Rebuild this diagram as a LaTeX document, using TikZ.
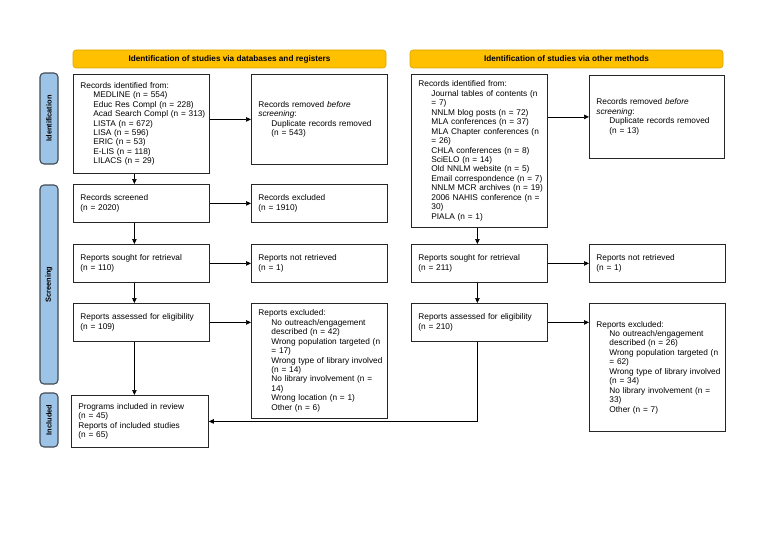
\documentclass[tikz,border=0pt]{standalone}
\usepackage{fontspec}
\setmainfont{Liberation Sans}
\usetikzlibrary{arrows.meta,calc}
\definecolor{hdrcolor}{HTML}{FFC000}
\definecolor{hdrline}{HTML}{D9A400}
\definecolor{sidecolor}{HTML}{9DC3E6}
\definecolor{sideline}{HTML}{3F4A55}
\newcommand\sub[1]{\\\hspace*{13pt}\mbox{#1}}
\tikzset{
  box/.style={draw=black!85, line width=0.8pt, rectangle, anchor=north west,
    minimum width=136pt, minimum height=#1, text width=122pt, inner xsep=7pt,
    inner ysep=1pt, align=left, font=\fontsize{8.3}{9.45}\selectfont},
  hdr/.style={draw=hdrline, line width=0.6pt, fill=hdrcolor, rounded corners=3pt,
    minimum width=313pt, minimum height=18pt, inner sep=0pt,
    font=\bfseries\fontsize{8.2}{9.5}\selectfont},
  side/.style={draw=sideline, line width=1.1pt, fill=sidecolor, rounded corners=4pt,
    minimum height=18pt, inner sep=0pt, rotate=90,
    font=\bfseries\fontsize{7.4}{8}\selectfont},
  arr/.style={-{Triangle[length=5pt,width=4.5pt]}, line width=0.7pt}
}
\begin{document}
\begin{tikzpicture}[x=1pt,y=-1pt]
\useasboundingbox (0,0) rectangle (768,543);
% headers
\node[hdr] (hleft) at (229.5,59) {Identification of studies via databases and registers};
\node[hdr] (hright) at (566.5,59) {Identification of studies via other methods};
% phase labels
\foreach \lab/\y/\len in {Identification/118.5/91, Screening/284.5/199, Included/420/54}
  \node[side, minimum width=\len pt] (side\lab) at (49,\y) {\lab};
% databases and registers
\node[box=99pt] (lid) at (73,74) {Records identified from:\sub{MEDLINE (n = 554)}\sub{Educ Res Compl (n = 228)}\sub{Acad Search Compl (n = 313)}\sub{LISTA (n = 672)}\sub{LISA (n = 596)}\sub{ERIC (n = 53)}\sub{E-LIS (n = 118)}\sub{LILACS (n = 29)}};
\node[box=90pt] (lrem) at (251,74) {Records removed \textit{before}\\\textit{screening}:\sub{Duplicate records removed}\sub{(n = 543)}};
\node[box=38pt] (lscr) at (73,184) {Records screened\\(n = 2020)};
\node[box=38pt] (lexc) at (251,184) {Records excluded\\(n = 1910)};
\node[box=38pt] (lsou) at (73,244) {Reports sought for retrieval\\(n = 110)};
\node[box=38pt] (lnot) at (251,244) {Reports not retrieved\\(n = 1)};
\node[box=38pt] (lass) at (73,303) {Reports assessed for eligibility\\(n = 109)};
\node[box=115pt] (lrep) at (251,303) {Reports excluded:\sub{No outreach/engagement}\sub{described (n = 42)}\sub{Wrong population targeted (n}\sub{= 17)}\sub{Wrong type of library involved}\sub{(n = 14)}\sub{No library involvement (n =}\sub{14)}\sub{Wrong location (n = 1)}\sub{Other (n = 6)}};
\node[box=52pt, minimum width=137pt, text width=123pt] (inc) at (71,395) {Programs included in review\\(n = 45)\\Reports of included studies\\(n = 65)};
% other methods
\node[box=153pt] (rid) at (411,74) {Records identified from:\sub{Journal tables of contents (n}\sub{= 7)}\sub{NNLM blog posts (n = 72)}\sub{MLA conferences (n = 37)}\sub{MLA Chapter conferences (n}\sub{= 26)}\sub{CHLA conferences (n = 8)}\sub{SciELO (n = 14)}\sub{Old NNLM website (n = 5)}\sub{Email correspondence (n = 7)}\sub{NNLM MCR archives (n = 19)}\sub{2006 NAHIS conference (n =}\sub{30)}\sub{PIALA (n = 1)}};
\node[box=83pt, minimum width=135pt, text width=121pt] (rrem) at (589,75) {Records removed \textit{before}\\\textit{screening}:\sub{Duplicate records removed}\sub{(n = 13)}};
\node[box=38pt] (rsou) at (411,244) {Reports sought for retrieval\\(n = 211)};
\node[box=38pt] (rnot) at (589,244) {Reports not retrieved\\(n = 1)};
\node[box=38pt] (rass) at (411,303) {Reports assessed for eligibility\\(n = 210)};
\node[box=128pt] (rrep) at (589,303) {Reports excluded:\sub{No outreach/engagement}\sub{described (n = 26)}\sub{Wrong population targeted (n}\sub{= 62)}\sub{Wrong type of library involved}\sub{(n = 34)}\sub{No library involvement (n =}\sub{33)}\sub{Other (n = 7)}};
% connectors, left
\draw[arr] (lid.east |- lrem.west) -- (lrem.west);
\draw[arr] ([xshift=-7pt]lid.south) -- ([xshift=-7pt]lscr.north);
\draw[arr] (lscr) -- (lexc);
\draw[arr] ([xshift=-7pt]lscr.south) -- ([xshift=-7pt]lsou.north);
\draw[arr] (lsou) -- (lnot);
\draw[arr] ([xshift=-7pt]lsou.south) -- ([xshift=-7pt]lass.north);
\draw[arr] (lass.east) -- (lass.east -| lrep.west);
\draw[arr] ([xshift=-7pt]lass.south) -- ([xshift=-7pt]lass.south |- inc.north);
% connectors, right
\draw[arr] (rid.east |- rrem.west) -- (rrem.west);
\draw[arr] ([xshift=-2pt]rid.south) -- ([xshift=-2pt]rsou.north);
\draw[arr] (rsou) -- (rnot);
\draw[arr] ([xshift=-2pt]rsou.south) -- ([xshift=-2pt]rass.north);
\draw[arr] (rass.east) -- (rass.east -| rrep.west);
\draw[arr] ([xshift=-2pt]rass.south) |- (inc.east);
\end{tikzpicture}
\end{document}
